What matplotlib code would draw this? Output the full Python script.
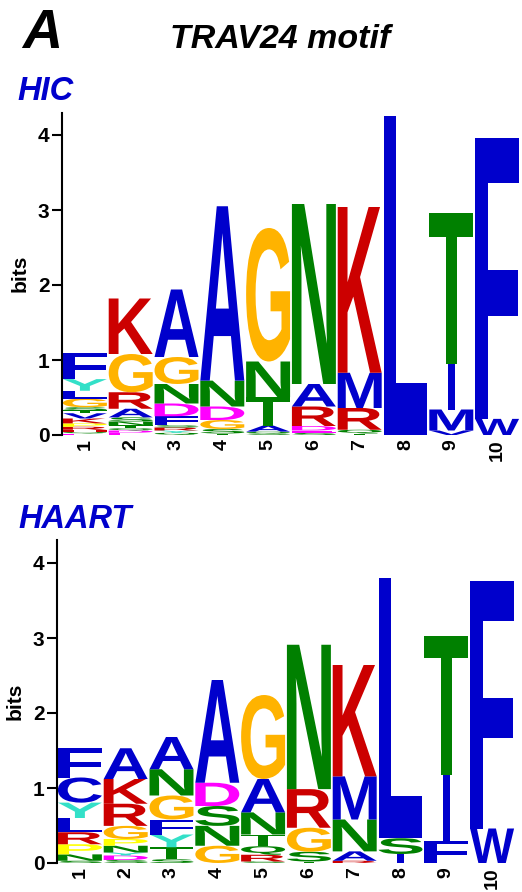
import matplotlib
matplotlib.use("Agg")
import matplotlib.pyplot as plt
from matplotlib.textpath import TextPath
from matplotlib.patches import PathPatch
from matplotlib.font_manager import FontProperties
from matplotlib.transforms import Affine2D

plt.rcParams['font.family'] = ['Liberation Sans', 'DejaVu Sans']

# positions 1..10, letters listed bottom -> top, heights in bits
positions = list(range(1, 11))

hic_letters = ["EQHRPKVTSGLYF", "EDQTNSARGK", "QYRSFDNGA", "TSGDNA", "SQATNG",
               "SEDRAN", "TQRMK", "L", "VMIT", "WF"]
hic_heights = [
    [0.02, 0.02, 0.03, 0.04, 0.045, 0.065, 0.07, 0.04, 0.04, 0.115, 0.105, 0.155, 0.345],
    [0.03, 0.03, 0.03, 0.04, 0.05, 0.055, 0.115, 0.22, 0.51, 0.74],
    [0.03, 0.03, 0.04, 0.03, 0.12, 0.17, 0.26, 0.36, 0.90],
    [0.02, 0.06, 0.12, 0.18, 0.345, 2.325],
    [0.02, 0.025, 0.08, 0.38, 0.475, 1.78],
    [0.03, 0.03, 0.06, 0.26, 0.30, 2.40],
    [0.02, 0.05, 0.29, 0.47, 2.21],
    [4.25],
    [0.06, 0.28, 0.61, 2.01],
    [0.215, 3.745],
]

haart_letters = ["SNPRLYCF", "SDYNPGRKA", "STYFGNA", "GNSDA", "SRQTNAG",
                 "TSGRN", "RANMK", "ISL", "FIT", "WF"]
haart_heights = [
    [0.03, 0.085, 0.135, 0.16, 0.19, 0.205, 0.335, 0.39],
    [0.04, 0.06, 0.04, 0.09, 0.09, 0.175, 0.295, 0.33, 0.41],
    [0.05, 0.16, 0.17, 0.20, 0.32, 0.35, 0.43],
    [0.23, 0.265, 0.265, 0.31, 1.37],
    [0.02, 0.09, 0.115, 0.155, 0.295, 0.445, 1.12],
    [0.02, 0.13, 0.32, 0.515, 1.925],
    [0.03, 0.125, 0.425, 0.575, 1.485],
    [0.12, 0.21, 3.47],
    [0.295, 0.88, 1.855],
    [0.46, 3.30],
]

yticks = [0, 1, 2, 3, 4]

aa_colors = {}
for c in "ACFILMVW":
    aa_colors[c] = "#0000CC"
for c in "NQST":
    aa_colors[c] = "#008000"
for c in "KRH":
    aa_colors[c] = "#CC0000"
for c in "DE":
    aa_colors[c] = "#FF00FF"
aa_colors["G"] = "#FFB300"
aa_colors["Y"] = "#33E0C8"
aa_colors["P"] = "#FFFF00"

glyph_font = FontProperties(family='Liberation Sans', weight='bold')
col_w = 0.96


def draw_letter(ax, ch, x, y, h):
    tp = TextPath((0, 0), ch, size=1, prop=glyph_font)
    bb = tp.get_extents()
    w = col_w
    if ch == "I":
        w = 0.16
    t = Affine2D().translate(-bb.x0, -bb.y0).scale(w / bb.width, h / bb.height) \
        .translate(x - w / 2, y)
    ax.add_patch(PathPatch(t.transform_path(tp), facecolor=aa_colors[ch],
                           edgecolor='none', lw=0))


def draw_logo(ax, letters, heights, ytop):
    for pos, lets, hs in zip(positions, letters, heights):
        y = 0.0
        for ch, h in zip(lets, hs):
            draw_letter(ax, ch, pos, y, h)
            y += h
    ax.set_xlim(0.5, 10.5)
    ax.set_ylim(0, ytop)
    for s in ["top", "right", "bottom"]:
        ax.spines[s].set_visible(False)
    ax.spines["left"].set_linewidth(1.5)
    ax.set_yticks(yticks)
    ax.set_yticklabels([str(v) for v in yticks], fontsize=15, fontweight='bold')
    ax.tick_params(axis='y', length=7, width=1.5, pad=2)
    ax.set_xticks(positions)
    ax.set_xticklabels([str(p) for p in positions], rotation=90,
                       fontsize=14, fontweight='bold')
    ax.tick_params(axis='x', length=0, pad=3)
    ax.set_ylabel("bits", fontsize=15, fontweight='bold', labelpad=6)


fig = plt.figure(figsize=(5.22, 8.92), dpi=100)
W, H = 522.0, 892.0

ax1 = fig.add_axes([62 / W, (H - 435) / H, 458 / W, 4.3 * 75 / H])
draw_logo(ax1, hic_letters, hic_heights, 4.3)

ax2 = fig.add_axes([57 / W, (H - 863) / H, 458 / W, 4.31 * 75 / H])
draw_logo(ax2, haart_letters, haart_heights, 4.31)

fig.text(22 / W, 1 - 48 / H, "A", fontsize=40, fontweight='bold',
         fontstyle='italic', ha='left', va='baseline')
fig.text(280 / W, 1 - 48 / H, "TRAV24 motif", fontsize=24.5, fontweight='bold',
         fontstyle='italic', ha='center', va='baseline')
fig.text(17 / W, 1 - 100 / H, "HIC", fontsize=23.5, fontweight='bold',
         fontstyle='italic', color='#0000CC', ha='left', va='baseline')
fig.text(18 / W, 1 - 528 / H, "HAART", fontsize=23.5, fontweight='bold',
         fontstyle='italic', color='#0000CC', ha='left', va='baseline')

fig.savefig("out.png", dpi=100)
